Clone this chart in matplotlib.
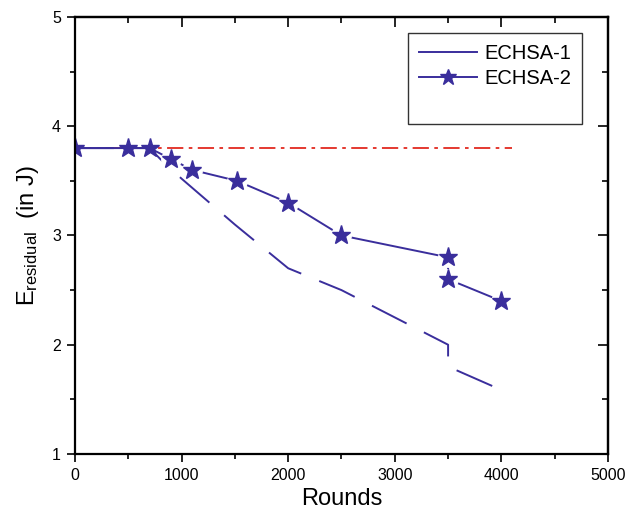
import matplotlib
matplotlib.use("Agg")
import matplotlib.pyplot as plt
from matplotlib.lines import Line2D

plt.rcParams['font.family'] = ['Liberation Sans', 'DejaVu Sans']
plt.rcParams['mathtext.default'] = 'regular'

# data
rounds_1 = [0, 500, 700, 800, 1000, 1500, 2000, 2500, 3500, 3500, 3920]
energy_1 = [3.8, 3.8, 3.8, 3.7, 3.52, 3.1, 2.7, 2.5, 2.0, 1.8, 1.62]
rounds_2 = [0, 500, 700, 900, 1100, 1520, 2000, 2500, 3500, 3500, 4000]
energy_2 = [3.8, 3.8, 3.8, 3.7, 3.6, 3.5, 3.3, 3.0, 2.8, 2.6, 2.4]
ref_rounds = [0, 4100]
ref_energy = [3.8, 3.8]

blue = '#3a2e9c'
red = '#e22a20'

fig = plt.figure(figsize=(6.27, 5.17), dpi=100)
ax = fig.add_axes([0.1196, 0.1219, 0.8501, 0.8452])

ax.plot(ref_rounds, ref_energy, color=red, lw=1.3, ls=(0, (9, 3, 2, 3)))
ax.plot(rounds_1, energy_1, color=blue, lw=1.4, ls=(0, (20, 10)))
# line with gaps round the stars
ax.plot(rounds_2, energy_2, color=blue, lw=1.4)
ax.plot(rounds_2[3:], energy_2[3:], ls='none', marker='o', ms=14, color='white')
ax.plot(rounds_2, energy_2, ls='none', marker='*', ms=14, color=blue)

ax.set_xlim(0, 5000)
ax.set_ylim(1, 5)
ax.set_xticks([0, 1000, 2000, 3000, 4000, 5000])
ax.set_xticks(range(500, 5000, 1000), minor=True)
ax.set_yticks([1, 2, 3, 4, 5])
ax.set_yticks([1.5, 2.5, 3.5, 4.5], minor=True)
ax.tick_params(which='major', direction='out', length=6, width=1.2, labelsize=11.5, pad=4)
ax.tick_params(which='minor', direction='out', length=3.6, width=1.2)
for s in ax.spines.values():
    s.set_linewidth(1.6)

# mirrored ticks pointing inward on top and right
top = ax.secondary_xaxis('top')
top.set_xticks([0, 1000, 2000, 3000, 4000, 5000], labels=[])
top.set_xticks(range(500, 5000, 1000), minor=True)
top.tick_params(which='major', direction='in', length=7, width=1.2)
top.tick_params(which='minor', direction='in', length=4, width=1.2)
right = ax.secondary_yaxis('right')
right.set_yticks([1, 2, 3, 4, 5], labels=[])
right.set_yticks([1.5, 2.5, 3.5, 4.5], minor=True)
right.tick_params(which='major', direction='in', length=7, width=1.2)
right.tick_params(which='minor', direction='in', length=4, width=1.2)
top.spines['top'].set_linewidth(1.6)
right.spines['right'].set_linewidth(1.6)

ax.set_xlabel('Rounds', fontsize=17, labelpad=4)
ax.set_ylabel(r'E$_{residual}$  (in J)', fontsize=17, labelpad=8)

handles = [Line2D([], [], color=blue, lw=1.4),
           Line2D([], [], color=blue, lw=1.4, marker='*', ms=12),
           Line2D([], [], color='none')]
leg = ax.legend(handles, ['ECHSA-1', 'ECHSA-2', ' '], loc='upper left',
                bbox_to_anchor=(0.6507, 0.9362), bbox_transform=fig.transFigure,
                borderaxespad=0, fontsize=14.5, frameon=True, fancybox=False,
                handlelength=2.9, handletextpad=0.35, labelspacing=0.3,
                borderpad=0.55)
leg.get_frame().set_edgecolor('black')
leg.get_frame().set_linewidth(1.0)

fig.savefig('out.png', dpi=100)
